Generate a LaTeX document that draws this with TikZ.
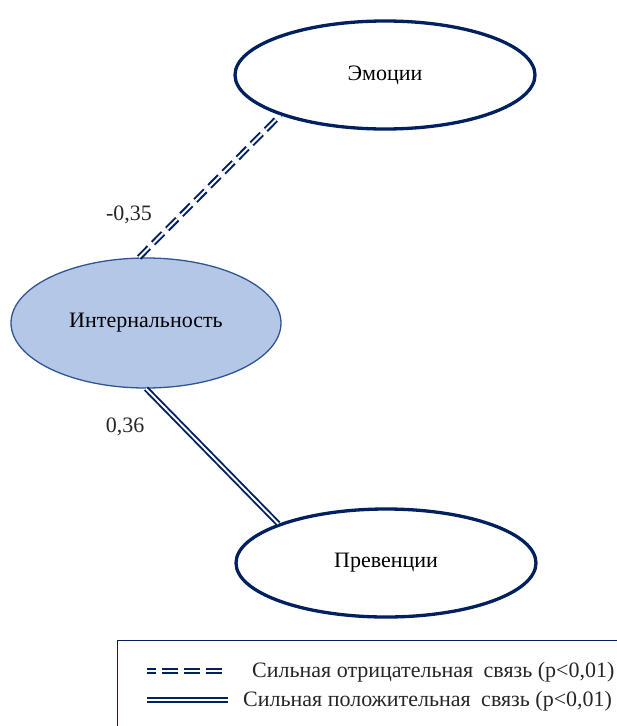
\documentclass[tikz,border=0pt]{standalone}
\usepackage{fontspec}
\setmainfont{Liberation Serif}
\usetikzlibrary{shapes.geometric}
\definecolor{navy}{RGB}{0,32,96}
\definecolor{paleblue}{RGB}{180,199,231}
\definecolor{midblue}{RGB}{47,85,151}

\begin{document}
\begin{tikzpicture}[x=1pt,y=-1pt,
  outer/.style={ellipse,draw=navy,line width=3.3pt,fill=white,inner sep=0pt,
    minimum width=300pt,minimum height=108pt,font=\fontsize{22}{26}\selectfont},
  inner/.style={ellipse,draw=midblue,line width=1.3pt,fill=paleblue,inner sep=0pt,
    minimum width=270pt,minimum height=130pt,font=\fontsize{22}{26}\selectfont},
  neglink/.style={draw=navy,line width=2pt,double=white,double distance=2pt,
    dash pattern=on 14pt off 6pt},
  poslink/.style={draw=navy,line width=1.9pt,double=white,double distance=1.9pt},
  coef/.style={font=\fontsize{22}{26}\selectfont,text=black!85,inner sep=0pt},
  legend/.style={draw=navy,line width=0.9pt},
]
\useasboundingbox (0,0) rectangle (617,726);
\node[outer] (emo) at (385,75) {Эмоции};
\node[inner] (int) at (146,323) {Интернальность};
\node[outer] (prev) at (386,563) {Превенции};
\draw[neglink] (int.96) -- (emo.201);
\draw[poslink] (int.south) -- (prev.160);
\node[coef] (r1) at (129,215) {-0,35};
\node[coef] (r2) at (125,427) {0,36};
\draw[legend] (117,760) -- (117,640) -- (660,640);
\coordinate (n1) at (147,671);
\coordinate (n2) at (228,671);
\coordinate (p1) at (147,700);
\coordinate (p2) at (228,700);
\draw[neglink,dash pattern=on 9pt off 6pt on 16pt off 6pt on 16pt off 6pt on 16pt off 6pt] (n1) -- (n2);
\draw[poslink] (p1) -- (p2);
\node[coef,anchor=west] (t1) at (252,672) {Сильная отрицательная\hspace{5pt} связь (p<0,01)};
\node[coef,anchor=west] (t2) at (243,701) {Сильная положительная\hspace{5pt} связь (p<0,01)};
\end{tikzpicture}
\end{document}
